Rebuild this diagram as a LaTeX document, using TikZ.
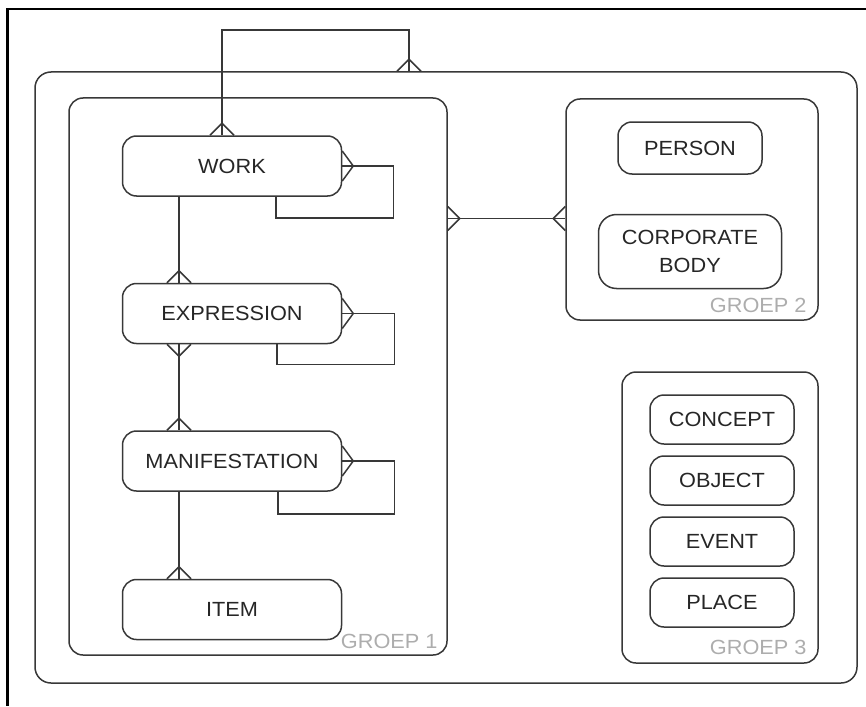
\documentclass[tikz,border=0pt]{standalone}
\usepackage{fontspec}
\setmainfont{Liberation Sans}[FakeStretch=1.06]
\usepackage{tikz}
\usetikzlibrary{positioning}

\definecolor{edgegray}{gray}{0.22}
\definecolor{labelgray}{gray}{0.68}

\begin{document}
\begin{tikzpicture}[x=1pt,y=-1pt,node distance=86pt,
  link/.style={draw=edgegray,line width=1.5pt},
  entity/.style={link,rounded corners=14pt,minimum width=219pt,minimum height=60pt,
    inner sep=0pt,text=black!85,font=\fontsize{20.5}{28}\selectfont},
  member/.style={entity,minimum width=144pt,minimum height=49pt},
  group/.style={link,rounded corners=14pt,inner sep=0pt},
  grouplabel/.style={anchor=base east,inner sep=0pt,text=labelgray,
    font=\fontsize{20.5}{24}\selectfont},
  manyend/.pic={\draw[link] (-12,0) -- (0,-12) -- (12,0);},
  manyside/.pic={\draw[link] (-15,0) -- (0,-11) -- (15,0);}]

\useasboundingbox (0,0) rectangle (866,706);
\draw[line width=2.5pt] (866,9) -- (7.5,9) -- (7.5,706);

% groups
\node[group,rounded corners=16pt,minimum width=822pt,minimum height=611pt] (all) at (446,377.5) {};
\node[group,minimum width=378pt,minimum height=557pt] (g_1) at (258,376.5) {};
\node[group,minimum width=252pt,minimum height=221pt] (g_2) at (692,209.5) {};
\node[group,minimum width=196pt,minimum height=291pt] (g_3) at (720,517.5) {};

\node[grouplabel] (g_1_label) at ([xshift=-10pt,yshift=7pt]g_1.south east) {GROEP 1};
\node[grouplabel] (g_2_label) at ([xshift=-12pt,yshift=8pt]g_2.south east) {GROEP 2};
\node[grouplabel] (g_3_label) at ([xshift=-12pt,yshift=9pt]g_3.south east) {GROEP 3};

% groep 1
\node[entity] (work) at (232,166) {WORK};
\node[entity] (expr) [below=of work] {EXPRESSION};
\node[entity] (manif) [below=of expr] {MANIFESTATION};
\node[entity] (item) [below=87pt of manif] {ITEM};

% groep 2
\node[member,minimum height=52pt] (person) at (690,148) {PERSON};
\node[member,minimum width=183pt,minimum height=74pt,rounded corners=18pt,
  align=center] (corp) [below=39pt of person] {CORPORATE\\BODY};

% groep 3
\node[member] (concept) at (722,419.5) {CONCEPT};
\node[member] (object) [below=10.5pt of concept] {OBJECT};
\node[member] (event) [below=10.5pt of object] {EVENT};
\node[member] (place) [below=10.5pt of event] {PLACE};

% relations
\draw[link] ([xshift=-10pt]work.north) -- ++(0,-105) -| ([xshift=-37pt]all.north);
\pic at ([xshift=-10pt]work.north) {manyend};
\pic at ([xshift=-37pt]all.north) {manyend};

\draw[link] ([xshift=-53pt]work.south) -- ([xshift=-53pt]expr.north);
\draw[link] ([xshift=-53pt]expr.south) -- ([xshift=-53pt]manif.north);
\draw[link] ([xshift=-53pt]manif.south) -- ([xshift=-53pt]item.north);
\pic at ([xshift=-53pt]expr.north) {manyend};
\pic[rotate=180] at ([xshift=-53pt]expr.south) {manyend};
\pic at ([xshift=-53pt]manif.north) {manyend};
\pic at ([xshift=-53pt]item.north) {manyend};

\draw[link] (work.east) -- ++(51,0) -- ++(0,52) -| ([xshift=44pt]work.south);
\draw[link] (expr.east) -- ++(52,0) -- ++(0,51) -| ([xshift=45pt]expr.south);
\draw[link] (manif.east) -- ++(52,0) -- ++(0,53) -| ([xshift=46pt]manif.south);
\pic[rotate=-90] at (work.east) {manyside};
\pic[rotate=-90] at (expr.east) {manyside};
\pic[rotate=-90] at (manif.east) {manyside};

\coordinate (g_1_out) at ([yshift=158pt]g_1.east);
\draw[link] (g_1_out) -- (g_1_out -| g_2.west);
\pic[rotate=-90] at (g_1_out) {manyend};
\pic[rotate=90] at (g_1_out -| g_2.west) {manyend};

\end{tikzpicture}
\end{document}
